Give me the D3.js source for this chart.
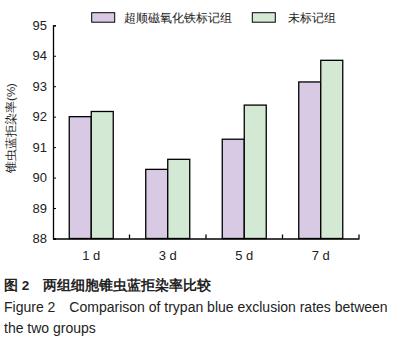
<!doctype html>
<html>
<head>
<meta charset="utf-8">
<script src="https://d3js.org/d3.v7.min.js"></script>
<style>
  body { margin: 0; background: #fff; }
  text { font-family: "Liberation Sans", Arial, sans-serif; }
</style>
</head>
<body>
<svg id="chart" width="399" height="343"></svg>
<script>
// data
var categories = ["1 d", "3 d", "5 d", "7 d"];
var seriesNames = ["超顺磁氧化铁标记组", "未标记组"];
var labeled = [92.0, 90.27, 91.26, 93.14];
var unlabeled = [92.17, 90.6, 92.38, 93.85];
var yTicks = [88, 89, 90, 91, 92, 93, 94, 95];
var colors = ["#d8cae4", "#d4e9d3"];

var svg = d3.select("#chart");
var pLeft = 53, pRight = 359, pTop = 25.3, pBottom = 238.5;

var x = d3.scaleBand().domain(categories).range([pLeft, pRight]);
var inner = d3.scaleBand().domain([0, 1]).range([0, 44]);
var y = d3.scaleLinear().domain([88, 95]).range([pBottom, pTop]);

var rows = categories.map(function(c, i) {
  return { cat: c, vals: [labeled[i], unlabeled[i]] };
});

// bars
var g = svg.append("g");
rows.forEach(function(r) {
  var x0 = x(r.cat) + (x.bandwidth() - 44) / 2;
  r.vals.forEach(function(v, j) {
    g.append("rect")
      .attr("x", x0 + inner(j))
      .attr("y", y(v))
      .attr("width", inner.bandwidth())
      .attr("height", y(88) - y(v))
      .attr("fill", colors[j])
      .attr("stroke", "#000")
      .attr("stroke-width", 1.3);
  });
});

// y axis
var ya = svg.append("g").attr("transform", "translate(" + pLeft + ",0)")
  .call(d3.axisLeft(y).tickValues(yTicks).tickSize(-3).tickPadding(6).tickFormat(d3.format("d")));
ya.select(".domain").attr("stroke-width", 1.3);
ya.selectAll("text").attr("font-size", 13).attr("fill", "#222");

// x axis
var xa = svg.append("g").attr("transform", "translate(0," + pBottom + ")")
  .call(d3.axisBottom(x).tickSize(0).tickPadding(12));
xa.select(".domain").attr("stroke-width", 1.3);
xa.selectAll("text").attr("font-size", 13).attr("fill", "#222");
// boundary ticks between groups (point up)
xa.selectAll(".bt").data(categories.slice(1).concat(["end"]))
  .enter().append("line")
  .attr("x1", function(d) { return d === "end" ? pRight : x(d); })
  .attr("x2", function(d) { return d === "end" ? pRight : x(d); })
  .attr("y1", 0).attr("y2", -4)
  .attr("stroke", "#000").attr("stroke-width", 1.3);

// y label
svg.append("text")
  .attr("transform", "translate(15,128) rotate(-90)")
  .attr("text-anchor", "middle")
  .attr("font-size", 11.5)
  .attr("fill", "#222")
  .text("锥虫蓝拒染率(%)");

// legend
var legX = [91.7, 252.3], legTx = [124, 287.7];
seriesNames.forEach(function(n, i) {
  svg.append("rect").attr("x", legX[i]).attr("y", 12.7).attr("width", 23).attr("height", 9.5)
    .attr("fill", colors[i]).attr("stroke", "#000").attr("stroke-width", 1);
  svg.append("text").attr("x", legTx[i]).attr("y", 22).attr("font-size", 12).attr("fill", "#222").text(n);
});

// caption
svg.append("text").attr("x", 4).attr("y", 290).attr("font-size", 13.5).attr("font-weight", "bold")
  .attr("fill", "#222").text("图 2　两组细胞锥虫蓝拒染率比较");
svg.append("text").attr("x", 4).attr("y", 312).attr("font-size", 14).attr("fill", "#222")
  .text("Figure 2\u2003Comparison of trypan blue exclusion rates between");
svg.append("text").attr("x", 4).attr("y", 333).attr("font-size", 14).attr("fill", "#222")
  .text("the two groups");
</script>
</body>
</html>
